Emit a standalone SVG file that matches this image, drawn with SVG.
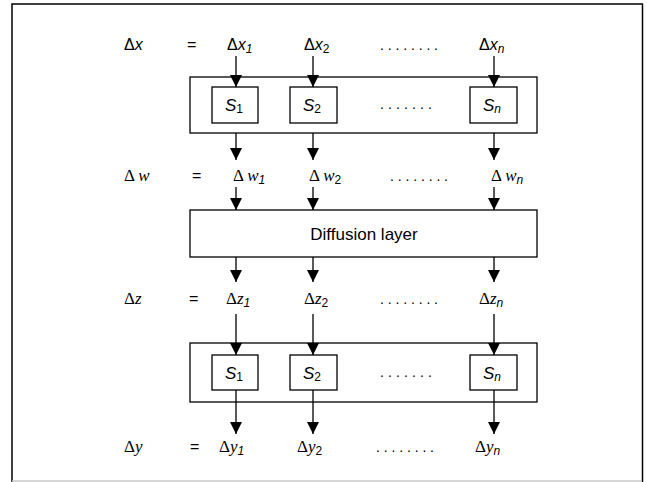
<svg xmlns="http://www.w3.org/2000/svg" width="647" height="482" viewBox="0 0 647 482">
<defs>
<marker id="ah" markerUnits="userSpaceOnUse" markerWidth="12" markerHeight="12" refX="12" refY="6" orient="auto">
<path d="M0,0 L12,6 L0,12 Z" fill="#000"/>
</marker>
<style>
.box{fill:#fff;stroke:#000;stroke-width:1.3}
.c{stroke:#000;stroke-width:1.3;fill:none;marker-end:url(#ah)}
.a{font-family:"Liberation Sans",Arial,sans-serif;font-size:16px;fill:#000}
.s{font-family:"Liberation Sans",Arial,sans-serif;font-size:17px;fill:#000}
.d{font-family:"Liberation Sans",Arial,sans-serif;font-size:17px;fill:#000}
.t{font-family:"Liberation Serif","Times New Roman",serif;font-size:17px;fill:#000}
.i{font-style:italic}
.sub{font-family:"Liberation Sans",Arial,sans-serif;font-size:12px}
.dots{font-family:"Liberation Sans",Arial,sans-serif;font-size:14px;fill:#000}
</style>
</defs>
<rect width="647" height="482" fill="#fff"/>
<g id="frame" fill="none">
<path d="M12,482 V4 H642.5 V482" stroke="#000" stroke-width="1.5"/>
<line x1="12" y1="481" x2="642" y2="481" stroke="#c8c8c8" stroke-width="1.5"/>
</g>

<g id="row-x">
<text class="a" x="124" y="50">Δ<tspan class="i">x</tspan></text>
<text class="a" x="187" y="50">=</text>
<text class="a" x="227" y="50">Δ<tspan class="i">x</tspan><tspan class="sub i" dy="3">1</tspan></text>
<text class="a" x="304" y="50">Δ<tspan class="i">x</tspan><tspan class="sub" dy="3">2</tspan></text>
<text class="dots" x="380" y="50" textLength="58" lengthAdjust="spacing">........</text>
<text class="a" x="479" y="50">Δ<tspan class="i">x</tspan><tspan class="sub i" dy="3">n</tspan></text>
</g>

<g id="sbox-top">
<rect class="box" x="190" y="77" width="347" height="56"/>
<g id="s1-top"><rect class="box" x="212" y="87" width="46" height="36"/><text class="s" x="225" y="111"><tspan class="i">S</tspan><tspan class="sub" dy="2">1</tspan></text></g>
<g id="s2-top"><rect class="box" x="290" y="87" width="47" height="36"/><text class="s" x="303" y="111"><tspan class="i">S</tspan><tspan class="sub" dy="2">2</tspan></text></g>
<text class="dots" x="380" y="109" textLength="52" lengthAdjust="spacing">.......</text>
<g id="sn-top"><rect class="box" x="470" y="87" width="47" height="36"/><text class="s" x="483" y="111"><tspan class="i">S</tspan><tspan class="sub i" dy="2">n</tspan></text></g>
</g>

<g id="row-w">
<text class="t" x="124" y="181">Δ <tspan class="i">w</tspan></text>
<text class="a" x="192" y="181">=</text>
<text class="t" x="233" y="181">Δ <tspan class="i">w</tspan><tspan class="sub i" dy="3">1</tspan></text>
<text class="t" x="309" y="181">Δ <tspan class="i">w</tspan><tspan class="sub" dy="3">2</tspan></text>
<text class="dots" x="390" y="181" textLength="58" lengthAdjust="spacing">........</text>
<text class="t" x="491" y="181">Δ <tspan class="i">w</tspan><tspan class="sub i" dy="3">n</tspan></text>
</g>

<g id="diffusion">
<rect class="box" x="190" y="210" width="347" height="47"/>
<text class="d" x="364" y="240" text-anchor="middle">Diffusion layer</text>
</g>

<g id="row-z">
<text class="t" x="124" y="304">Δ<tspan class="i">z</tspan></text>
<text class="a" x="189" y="304">=</text>
<text class="t" x="226" y="304">Δ<tspan class="i">z</tspan><tspan class="sub i" dy="3">1</tspan></text>
<text class="t" x="304" y="304">Δ<tspan class="i">z</tspan><tspan class="sub" dy="3">2</tspan></text>
<text class="dots" x="380" y="304" textLength="58" lengthAdjust="spacing">........</text>
<text class="t" x="479" y="304">Δ<tspan class="i">z</tspan><tspan class="sub i" dy="3">n</tspan></text>
</g>

<g id="sbox-bottom">
<rect class="box" x="190" y="343" width="347" height="59"/>
<g id="s1-bot"><rect class="box" x="212" y="355" width="46" height="35"/><text class="s" x="225" y="379"><tspan class="i">S</tspan><tspan class="sub" dy="2">1</tspan></text></g>
<g id="s2-bot"><rect class="box" x="290" y="355" width="47" height="35"/><text class="s" x="303" y="379"><tspan class="i">S</tspan><tspan class="sub" dy="2">2</tspan></text></g>
<text class="dots" x="380" y="377" textLength="52" lengthAdjust="spacing">.......</text>
<g id="sn-bot"><rect class="box" x="470" y="355" width="47" height="35"/><text class="s" x="483" y="379"><tspan class="i">S</tspan><tspan class="sub i" dy="2">n</tspan></text></g>
</g>

<g id="row-y">
<text class="t" x="124" y="452">Δ<tspan class="i">y</tspan></text>
<text class="a" x="190" y="452">=</text>
<text class="t" x="219" y="452">Δ<tspan class="i">y</tspan><tspan class="sub i" dy="3">1</tspan></text>
<text class="t" x="297" y="452">Δ<tspan class="i">y</tspan><tspan class="sub" dy="3">2</tspan></text>
<text class="dots" x="376" y="452" textLength="58" lengthAdjust="spacing">........</text>
<text class="t" x="475" y="452">Δ<tspan class="i">y</tspan><tspan class="sub i" dy="3">n</tspan></text>
</g>

<g id="connectors">
<line class="c" x1="236" y1="56" x2="236" y2="87"/>
<line class="c" x1="313" y1="56" x2="313" y2="87"/>
<line class="c" x1="494" y1="56" x2="494" y2="87"/>
<line class="c" x1="236" y1="133" x2="236" y2="160"/>
<line class="c" x1="313" y1="133" x2="313" y2="160"/>
<line class="c" x1="494" y1="133" x2="494" y2="160"/>
<line class="c" x1="236" y1="187" x2="236" y2="210"/>
<line class="c" x1="313" y1="187" x2="313" y2="210"/>
<line class="c" x1="494" y1="187" x2="494" y2="210"/>
<line class="c" x1="236" y1="257" x2="236" y2="282"/>
<line class="c" x1="313" y1="257" x2="313" y2="282"/>
<line class="c" x1="494" y1="257" x2="494" y2="282"/>
<line class="c" x1="236" y1="314" x2="236" y2="355"/>
<line class="c" x1="313" y1="314" x2="313" y2="355"/>
<line class="c" x1="494" y1="314" x2="494" y2="355"/>
<line class="c" x1="236" y1="390" x2="236" y2="434"/>
<line class="c" x1="313" y1="390" x2="313" y2="434"/>
<line class="c" x1="494" y1="390" x2="494" y2="434"/>
</g>
</svg>
